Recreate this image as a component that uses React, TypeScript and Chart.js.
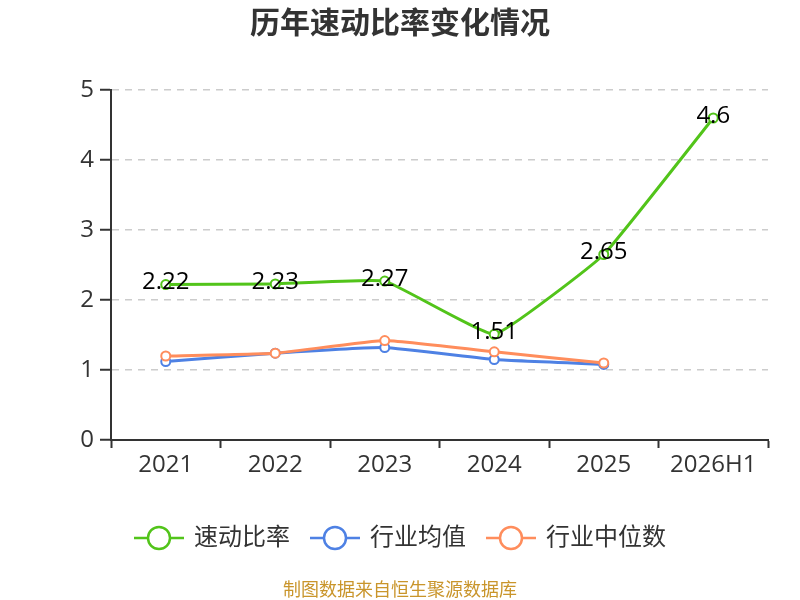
import React, { useEffect, useRef } from 'react';
import { Chart, registerables, Plugin } from 'chart.js';

Chart.register(...registerables);

// chart data
const years = ['2021', '2022', '2023', '2024', '2025', '2026H1'];
const quickRatio = [2.22, 2.23, 2.27, 1.51, 2.65, 4.6];
const industryMean = [1.12, 1.24, 1.32, 1.15, 1.08, null];
const industryMedian = [1.2, 1.24, 1.42, 1.26, 1.1, null];
const yTicks = [0, 1, 2, 3, 4, 5];

const seriesNames = ['速动比率', '行业均值', '行业中位数'];
const seriesColors = ['#52c41a', '#4e81e4', '#ff8d5c'];

const FONT = "'Open Sans', 'Noto Sans CJK SC', sans-serif";
const sourceNote = '制图数据来自恒生聚源数据库';

// value labels on the main series
const valueLabels: Plugin<'line'> = {
  id: 'valueLabels',
  afterDatasetsDraw(chart) {
    const ctx = chart.ctx;
    const meta = chart.getDatasetMeta(0);
    ctx.save();
    ctx.font = `24px ${FONT}`;
    ctx.fillStyle = '#000';
    ctx.textAlign = 'center';
    ctx.textBaseline = 'middle';
    meta.data.forEach((pt, i) => {
      const v = quickRatio[i];
      if (v == null) return;
      ctx.fillText(String(v), pt.x, pt.y - 2);
    });
    ctx.restore();
  },
};

// legend (line + hollow circle) and source note under the chart
const bottomLegend: Plugin<'line'> = {
  id: 'bottomLegend',
  afterDraw(chart) {
    const ctx = chart.ctx;
    const symW = 50;
    const gapIn = 10;
    const gapOut = 20;
    const y = 538;
    const cx = chart.width / 2;
    ctx.save();
    ctx.font = `24px ${FONT}`;
    const widths = seriesNames.map((n) => symW + gapIn + ctx.measureText(n).width);
    const total = widths.reduce((a, b) => a + b, 0) + gapOut * (seriesNames.length - 1);
    let x = cx - total / 2;
    seriesNames.forEach((name, i) => {
      const c = seriesColors[i];
      ctx.strokeStyle = c;
      ctx.lineWidth = 2.5;
      ctx.beginPath();
      ctx.moveTo(x, y);
      ctx.lineTo(x + symW, y);
      ctx.stroke();
      ctx.beginPath();
      ctx.arc(x + symW / 2, y, 11, 0, Math.PI * 2);
      ctx.fillStyle = '#fff';
      ctx.fill();
      ctx.stroke();
      ctx.fillStyle = '#333';
      ctx.textAlign = 'left';
      ctx.textBaseline = 'middle';
      ctx.fillText(name, x + symW + gapIn, y);
      x += widths[i] + gapOut;
    });
    ctx.font = `18px ${FONT}`;
    ctx.fillStyle = '#c9952b';
    ctx.textAlign = 'center';
    ctx.fillText(sourceNote, cx, 591);
    ctx.restore();
  },
};

const App: React.FC = () => {
  const canvasRef = useRef<HTMLCanvasElement>(null);
  const chartRef = useRef<Chart | null>(null);

  useEffect(() => {
    document.body.style.margin = '0';
    if (!canvasRef.current) return;
    const ctx = canvasRef.current.getContext('2d');
    if (!ctx) return;

    const series = [quickRatio, industryMean, industryMedian];

    chartRef.current = new Chart(ctx, {
      type: 'line',
      data: {
        labels: years,
        datasets: series.map((data, i) => ({
          label: seriesNames[i],
          data,
          borderColor: seriesColors[i],
          backgroundColor: '#fff',
          pointBackgroundColor: '#fff',
          pointBorderColor: seriesColors[i],
          pointBorderWidth: 2,
          pointRadius: 4.5,
          borderWidth: 3,
          tension: 0.1,
          order: [0, 2, 1][i],
        })),
      },
      options: {
        responsive: false,
        animation: false,
        layout: { padding: { left: 32, right: 32, top: 0, bottom: 0 } },
        plugins: {
          legend: { display: false },
          tooltip: { enabled: false },
          title: {
            display: true,
            text: '历年速动比率变化情况',
            color: '#333',
            font: { family: FONT, size: 30, weight: 'bold' },
            padding: { top: 6, bottom: 48 },
          },
        },
        scales: {
          x: {
            offset: true,
            grid: {
              offset: true,
              drawOnChartArea: false,
              drawTicks: true,
              tickLength: 8,
              tickColor: '#333',
              tickWidth: 2,
            },
            border: { display: true, color: '#333', width: 2 },
            ticks: { color: '#333', font: { family: FONT, size: 24 }, padding: 3 },
            afterFit: (scale) => {
              scale.height = 160;
            },
          },
          y: {
            min: 0,
            max: 5,
            afterBuildTicks: (scale) => {
              scale.ticks = yTicks.map((v) => ({ value: v }));
            },
            grid: {
              color: '#ccc',
              lineWidth: 1.5,
              tickLength: 11,
              tickColor: '#333',
              tickWidth: 2,
            },
            border: { display: true, color: '#333', width: 2, dash: [7, 6] },
            ticks: { color: '#333', font: { family: FONT, size: 24 }, padding: 6 },
            afterFit: (scale) => {
              scale.width = 79;
            },
          },
        },
      },
      plugins: [valueLabels, bottomLegend],
    });

    return () => {
      chartRef.current?.destroy();
      chartRef.current = null;
    };
  }, []);

  return (
    <div style={{ width: 800, height: 600, background: '#fff' }}>
      <canvas ref={canvasRef} width={800} height={600}></canvas>
    </div>
  );
};

export default App;
